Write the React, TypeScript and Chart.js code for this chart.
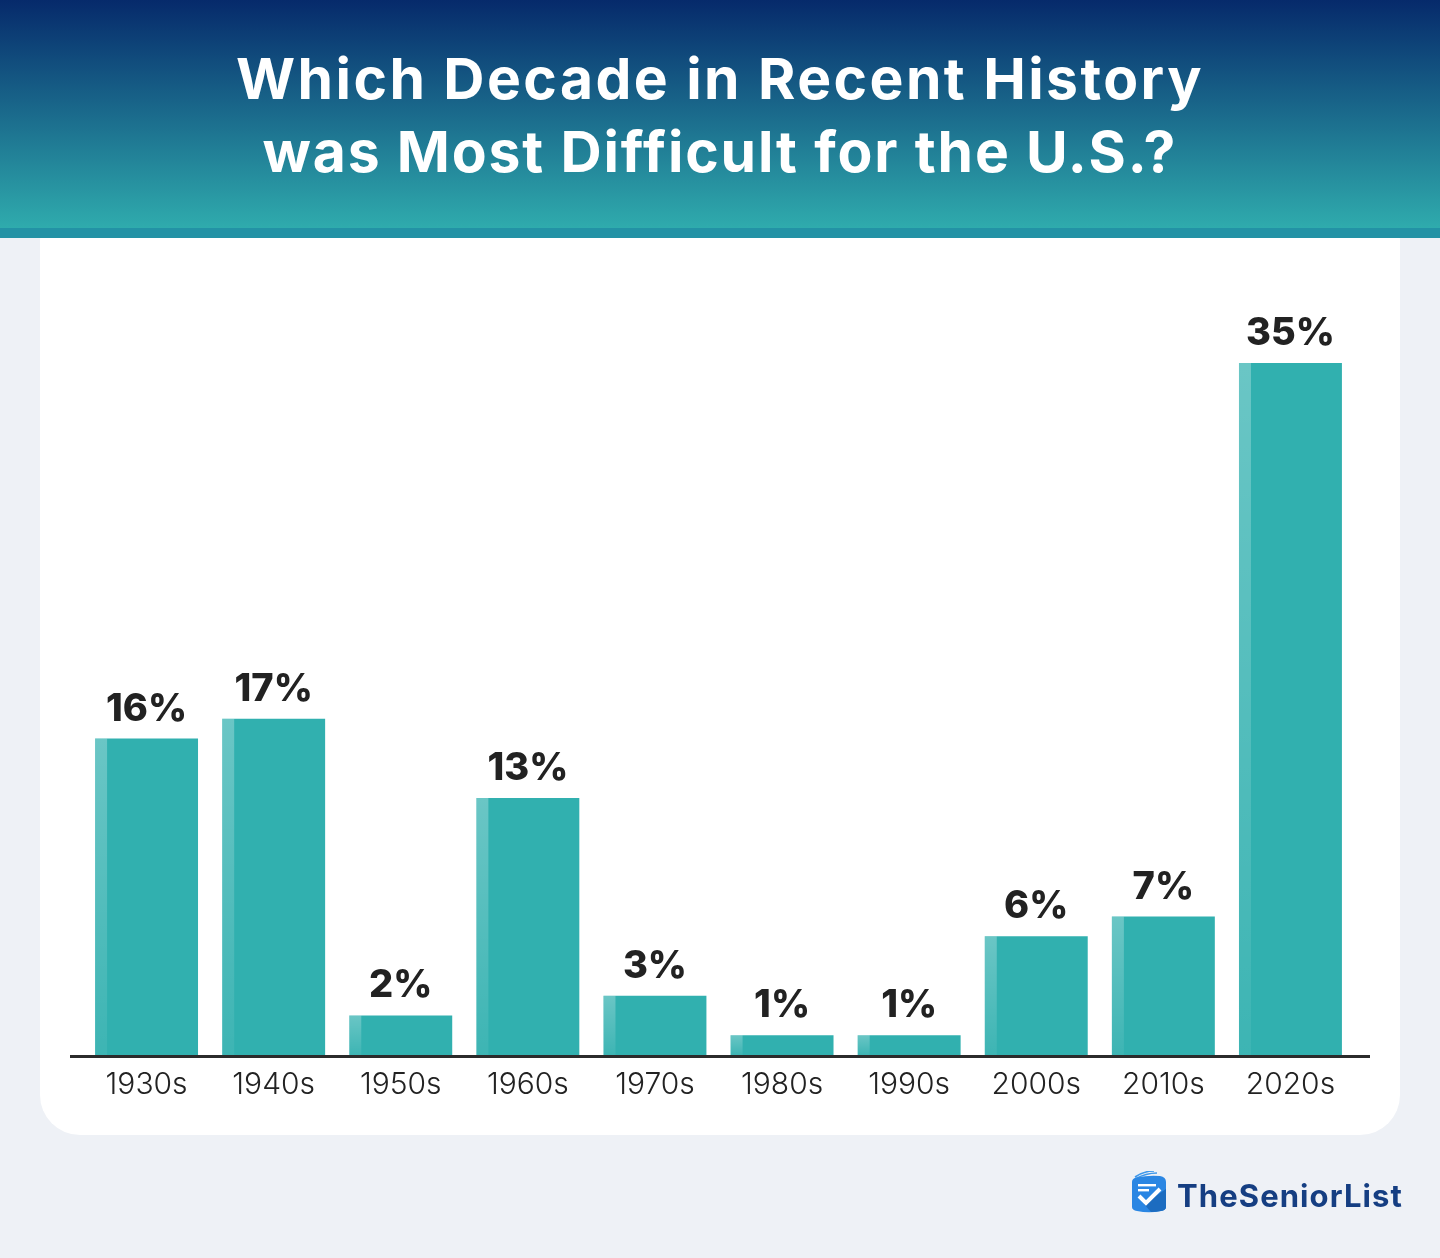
import React, { useEffect, useRef } from "react";
import { Chart, registerables } from "chart.js";

Chart.register(...registerables);

const decades = ["1930s", "1940s", "1950s", "1960s", "1970s", "1980s", "1990s", "2000s", "2010s", "2020s"];
const shares = [16, 17, 2, 13, 3, 1, 1, 6, 7, 35];
const titleLines = ["Which Decade in Recent History", "was Most Difficult for the U.S.?"];
const brand = "TheSeniorList";

const FONT = "Inter, 'Open Sans', sans-serif";
const TITLE_SPACING = [2.45, 1.85];

const decorations = {
  id: "decorations",
  afterDatasetsDraw(chart: any) {
    const { ctx, chartArea, scales } = chart;
    const meta = chart.getDatasetMeta(0);
    ctx.save();
    meta.data.forEach((bar: any, i: number) => {
      const left = bar.x - bar.width / 2;
      const g = ctx.createLinearGradient(0, bar.y, 0, bar.base);
      g.addColorStop(0, "rgba(255,255,255,0.28)");
      g.addColorStop(1, "rgba(255,255,255,0.06)");
      ctx.fillStyle = g;
      ctx.fillRect(left, bar.y, 12, bar.base - bar.y);
      ctx.fillStyle = "#222222";
      ctx.font = `800 38px ${FONT}`;
      ctx.textAlign = "center";
      ctx.textBaseline = "alphabetic";
      ctx.fillText(`${shares[i]}%`, bar.x, bar.y - 18);
    });
    const y = scales.y.getPixelForValue(0);
    ctx.fillStyle = "#2b2b2b";
    ctx.fillRect(chartArea.left - 13, y, chartArea.right - chartArea.left + 29, 3);
    ctx.restore();
  },
};

export default function App() {
  const ref = useRef<HTMLCanvasElement>(null);
  useEffect(() => {
    document.body.style.margin = "0";
    const chart = new Chart(ref.current!, {
      type: "bar",
      plugins: [decorations],
      data: {
        labels: decades,
        datasets: [
          {
            data: shares,
            backgroundColor: "#31b0af",
            barPercentage: 0.81,
            categoryPercentage: 1,
          },
        ],
      },
      options: {
        animation: false,
        responsive: false,
        devicePixelRatio: 1,
        layout: { padding: { left: 83, right: 86, top: 264, bottom: 151 } },
        plugins: { legend: { display: false }, tooltip: { enabled: false }, title: { display: false } },
        scales: {
          x: {
            grid: { display: false },
            border: { display: false },
            ticks: { color: "#222222", font: { family: FONT, size: 30, weight: "300" }, padding: 4, maxRotation: 0 },
          },
          y: { display: false, min: 0, max: 40 },
        },
      },
    });
    return () => chart.destroy();
  }, []);

  return (
    <div style={{ position: "relative", width: 1440, height: 1258, background: "#eef1f6", overflow: "hidden" }}>
      <div
        style={{
          position: "absolute", left: 40, top: 200, width: 1360, height: 935,
          background: "#ffffff", borderRadius: 40,
        }}
      />
      <div
        style={{
          position: "absolute", left: 0, top: 0, width: 1440, height: 228,
          background: "linear-gradient(180deg,#062a6b 0%,#2fabad 100%)",
          borderBottom: "10px solid #2392a5",
        }}
      />
      {titleLines.map((line, i) => (
        <div
          key={line}
          style={{
            position: "absolute", left: 0, width: 1440, top: 42 + i * 73, height: 73, lineHeight: "73px",
            textAlign: "center", color: "#ffffff", fontFamily: FONT, fontWeight: 700, fontSize: 57,
            letterSpacing: TITLE_SPACING[i], whiteSpace: "nowrap",
          }}
        >
          {line}
        </div>
      ))}
      <canvas ref={ref} width={1440} height={1258} style={{ position: "absolute", left: 0, top: 0, display: "block" }} />
      <svg style={{ position: "absolute", left: 1130, top: 1171 }} width={38} height={44} viewBox="0 0 38 44">
        <path d="M5 8 Q16 2 27 2 M5 6 Q14 0 24 0" stroke="#3d97ea" strokeWidth="1.6" fill="none" />
        <path d="M2 11 Q2 7 7 6.5 Q18 4 30 5 Q36 6 36 11 L36 36 Q36 39 31 40 Q19 42.5 7 40 Q2 39 2 36 Z" fill="#2a86e3" />
        <path d="M14 33 L36 18 L36 36 Q36 39 31 40 Q26 41 21 41 Z" fill="#1c6cc0" />
        <rect x="8" y="13" width="18" height="2.4" fill="#ffffff" />
        <rect x="8" y="18" width="11" height="2.4" fill="#ffffff" />
        <path d="M9 25 L16 32 L30 18" stroke="#ffffff" strokeWidth="4" fill="none" />
      </svg>
      <div
        style={{
          position: "absolute", left: 1177, top: 1176, height: 40, lineHeight: "40px", color: "#153e82",
          fontFamily: FONT, fontWeight: 700, fontSize: 31, letterSpacing: 1.1, whiteSpace: "nowrap",
        }}
      >
        {brand}
      </div>
    </div>
  );
}
